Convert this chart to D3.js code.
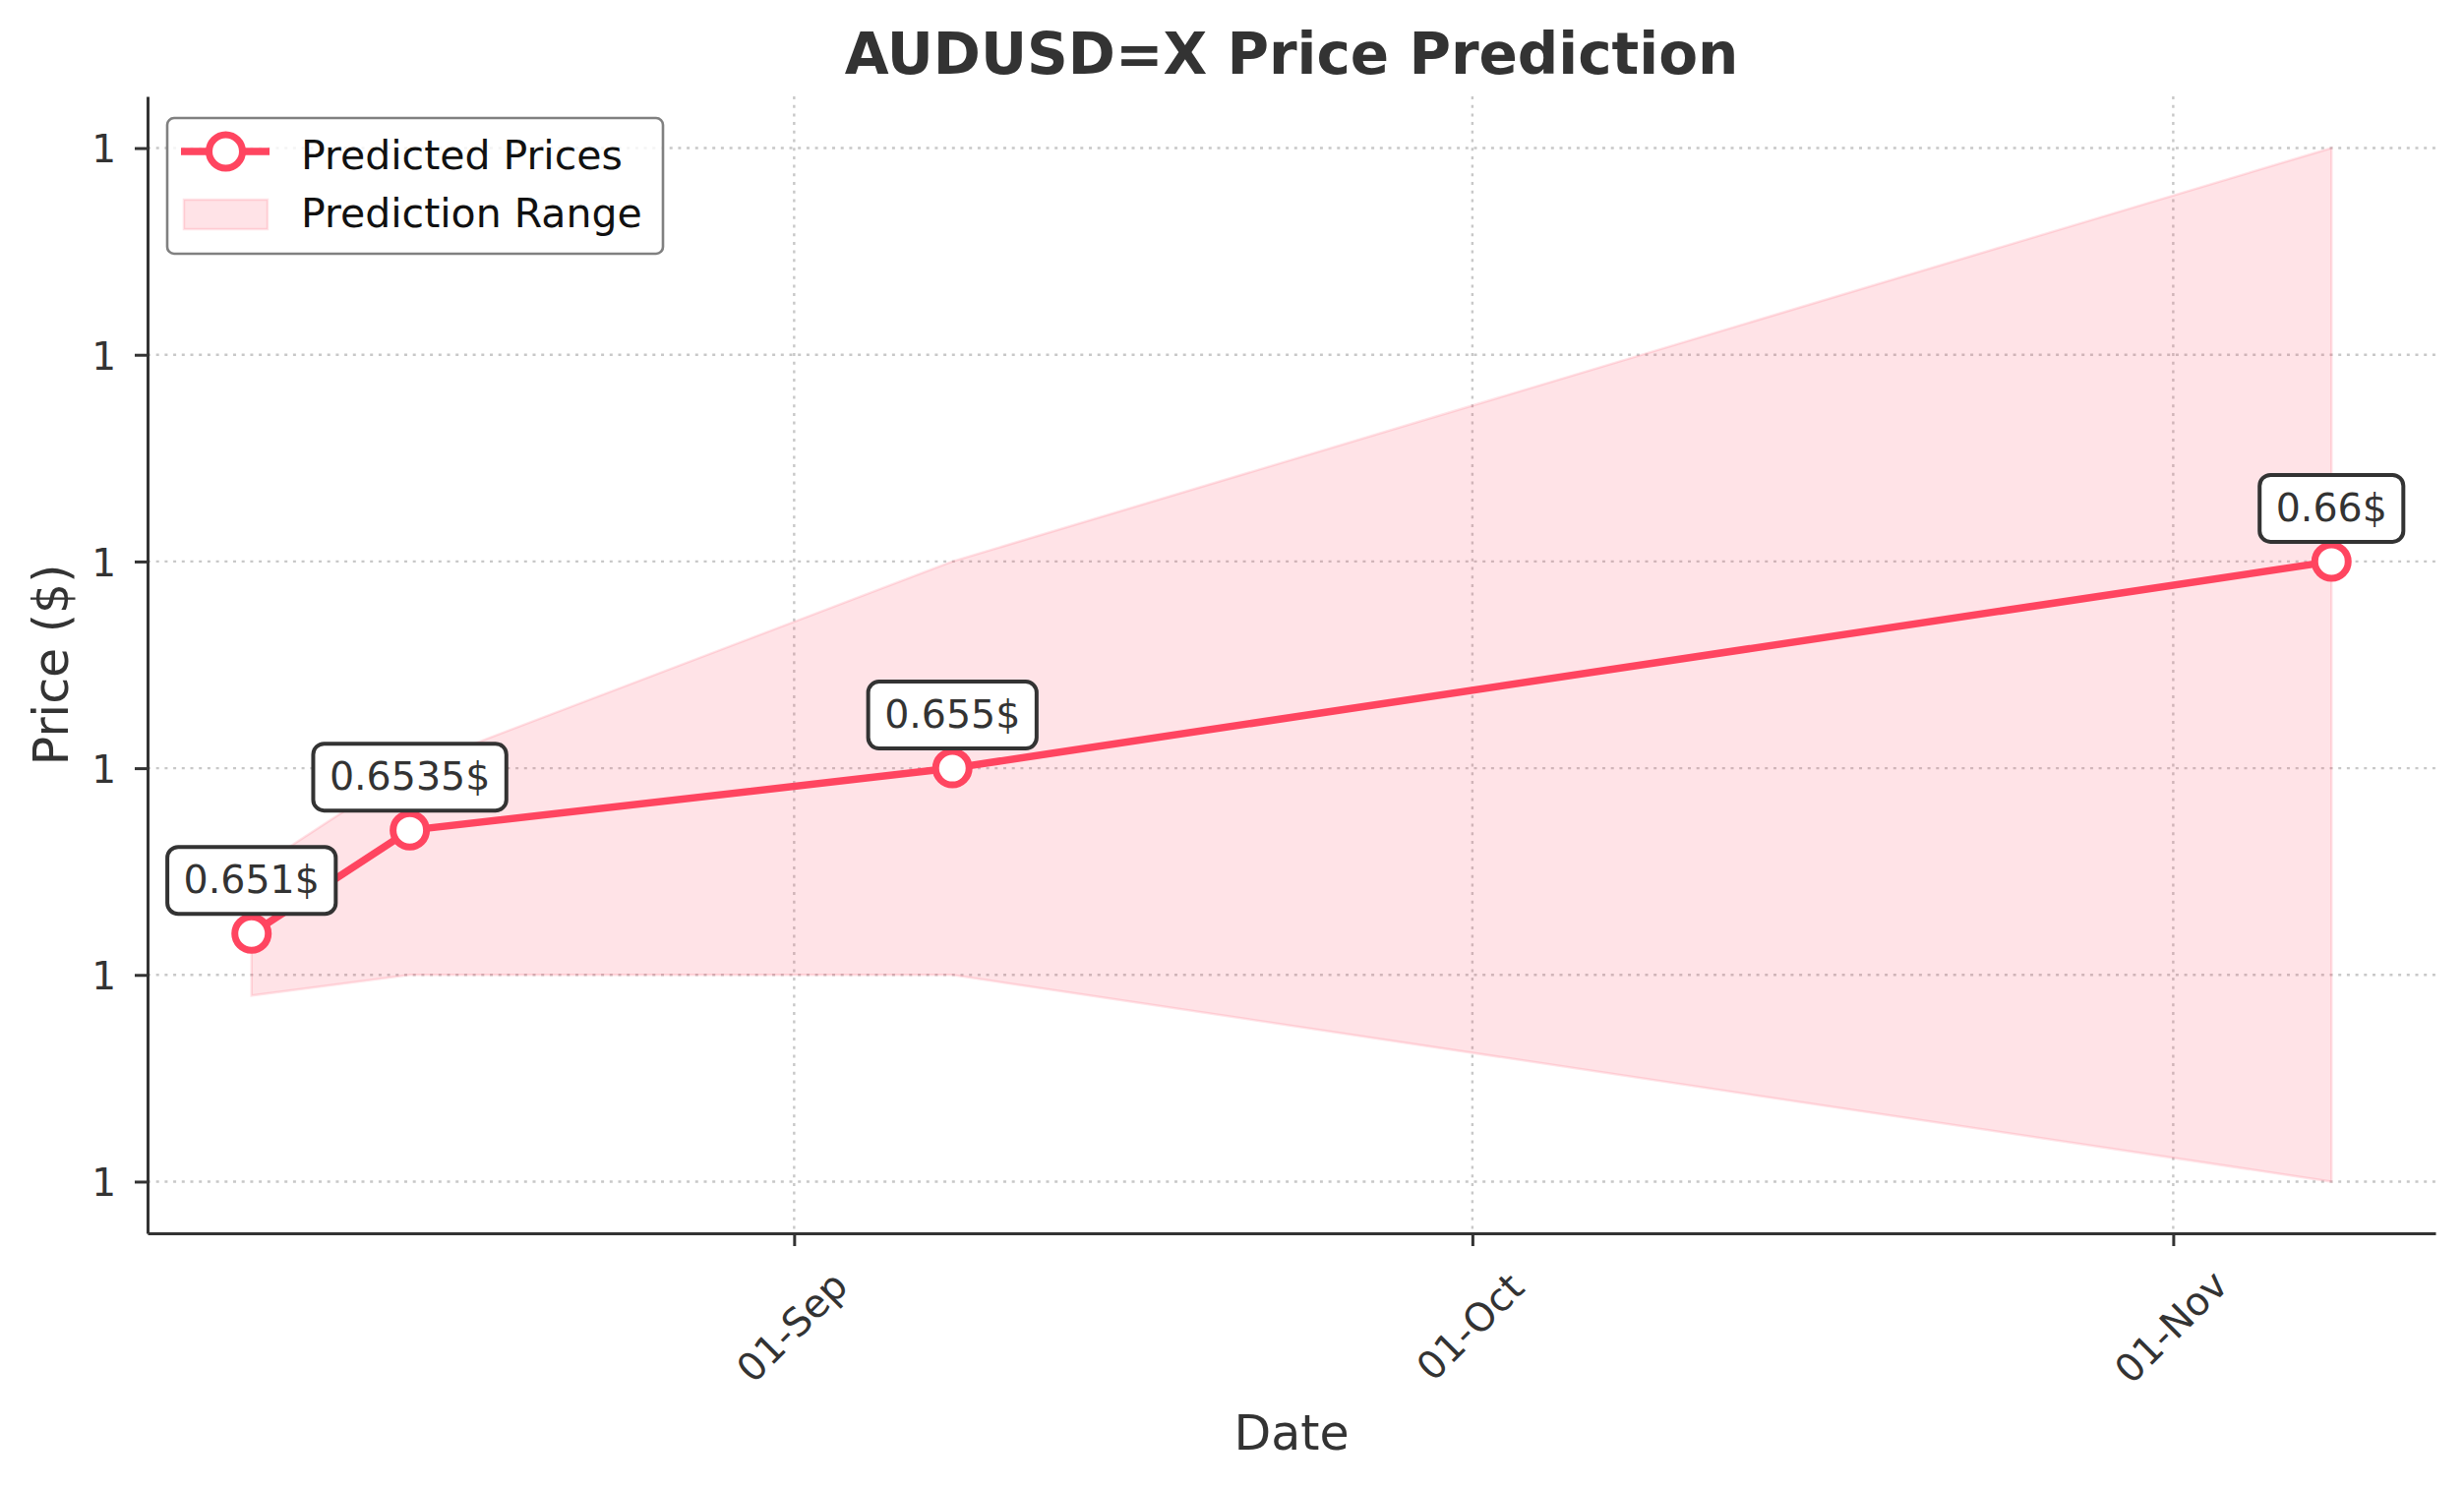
<!DOCTYPE html>
<html>
<head>
<meta charset="utf-8">
<title>AUDUSD=X Price Prediction</title>
<script src="https://cdn.jsdelivr.net/npm/d3@7"></script>
<style>
  html, body { margin: 0; padding: 0; background: #fff; }
  svg { display: block; font-family: "DejaVu Sans", sans-serif; }
</style>
</head>
<body>
<div id="chart"></div>
<script>
/* Price prediction line with a shaded range band. */

var dates = ["2024-08-08", "2024-08-15", "2024-09-08", "2024-11-08"];
var predicted = [0.651, 0.6535, 0.655, 0.66];
var lower = [0.6495, 0.65, 0.65, 0.645];
var upper = [0.6525, 0.655, 0.66, 0.67];
var pointLabels = ["0.651$", "0.6535$", "0.655$", "0.66$"];
var xTickDates = ["2024-09-01", "2024-10-01", "2024-11-01"];
var yTickValues = [0.645, 0.65, 0.655, 0.66, 0.665, 0.67];

var W = 2505, H = 1513;
var m = { left: 150, right: 2476, top: 98, bottom: 1254 };
var red = "#ff4560";
var ink = "#333333";

var parse = d3.utcParse("%Y-%m-%d");
var rows = dates.map(function (d, i) {
  return { date: parse(d), value: predicted[i], lo: lower[i], hi: upper[i], label: pointLabels[i] };
});

// matplotlib-like 5% autoscale margins
var xExt = d3.extent(rows, function (r) { return r.date; });
var xPad = (xExt[1] - xExt[0]) * 0.05;
var yMin = d3.min(rows, function (r) { return r.lo; });
var yMax = d3.max(rows, function (r) { return r.hi; });
var yPad = (yMax - yMin) * 0.05;

var x = d3.scaleUtc()
  .domain([new Date(+xExt[0] - xPad), new Date(+xExt[1] + xPad)])
  .range([m.left, m.right]);
var y = d3.scaleLinear()
  .domain([yMin - yPad, yMax + yPad])
  .range([m.bottom, m.top]);

var svg = d3.select("#chart").append("svg")
  .attr("width", W).attr("height", H)
  .attr("viewBox", "0 0 " + W + " " + H);

svg.append("rect").attr("width", W).attr("height", H).attr("fill", "#fff");

// grid
var grid = svg.append("g").attr("stroke", "#c8c8c8").attr("stroke-width", 2.4)
  .attr("stroke-dasharray", "3,5.7").attr("fill", "none");
grid.selectAll("line.h").data(yTickValues).enter().append("line")
  .attr("x1", m.left).attr("x2", m.right)
  .attr("y1", function (d) { return y(d); }).attr("y2", function (d) { return y(d); });
grid.selectAll("line.v").data(xTickDates.map(parse)).enter().append("line")
  .attr("y1", m.top).attr("y2", m.bottom)
  .attr("x1", function (d) { return x(d); }).attr("x2", function (d) { return x(d); });

// prediction range
var area = d3.area()
  .x(function (r) { return x(r.date); })
  .y0(function (r) { return y(r.lo); })
  .y1(function (r) { return y(r.hi); });
svg.append("path").datum(rows)
  .attr("d", area)
  .attr("fill", red).attr("fill-opacity", 0.15)
  .attr("stroke", red).attr("stroke-opacity", 0.15).attr("stroke-width", 2.5);

// predicted line
var line = d3.line()
  .x(function (r) { return x(r.date); })
  .y(function (r) { return y(r.value); });
svg.append("path").datum(rows)
  .attr("d", line)
  .attr("fill", "none").attr("stroke", red).attr("stroke-width", 7.5)
  .attr("stroke-linejoin", "round");

svg.selectAll("circle.pt").data(rows).enter().append("circle")
  .attr("class", "pt")
  .attr("cx", function (r) { return x(r.date); })
  .attr("cy", function (r) { return y(r.value); })
  .attr("r", 17)
  .attr("fill", "#fff").attr("stroke", red).attr("stroke-width", 7);

// value annotations
var labelFs = 39.5, padX = 16.5, boxH = 68, lift = 54;
rows.forEach(function (r) {
  var cx = x(r.date), cy = y(r.value) - lift;
  var g = svg.append("g");
  var t = g.append("text")
    .attr("x", cx).attr("y", cy + 13)
    .attr("text-anchor", "middle")
    .attr("font-size", labelFs).attr("fill", ink)
    .text(r.label);
  var w = t.node().getComputedTextLength() + padX * 2;
  g.insert("rect", "text")
    .attr("x", cx - w / 2).attr("y", cy - boxH / 2)
    .attr("width", w).attr("height", boxH)
    .attr("rx", 11).attr("ry", 11)
    .attr("fill", "#fff").attr("stroke", ink).attr("stroke-width", 4);
});

// axes
var xAxis = d3.axisBottom(x)
  .tickValues(xTickDates.map(parse))
  .tickFormat(d3.utcFormat("%d-%b"))
  .tickSize(13).tickSizeOuter(0);
var gx = svg.append("g").attr("transform", "translate(0," + m.bottom + ")").call(xAxis);
gx.select(".domain").attr("stroke", ink).attr("stroke-width", 3);
gx.selectAll(".tick line").attr("stroke", ink).attr("stroke-width", 3);
gx.selectAll(".tick text")
  .attr("font-family", "DejaVu Sans").attr("font-size", 39.5).attr("fill", ink)
  .attr("y", 0).attr("dy", "0.25em")
  .attr("text-anchor", "middle")
  .attr("transform", "translate(0," + (1352 - m.bottom) + ") rotate(-45)");

var yAxis = d3.axisLeft(y)
  .tickValues(yTickValues)
  .tickFormat(d3.format(".0f"))
  .tickSize(13).tickPadding(19).tickSizeOuter(0);
var gy = svg.append("g").attr("transform", "translate(" + m.left + ",0)").call(yAxis);
gy.select(".domain").attr("stroke", ink).attr("stroke-width", 3);
gy.selectAll(".tick line").attr("stroke", ink).attr("stroke-width", 3);
gy.selectAll(".tick text")
  .attr("font-family", "DejaVu Sans").attr("font-size", 39).attr("fill", ink)
  .attr("dy", "0.37em");

// titles
svg.append("text")
  .attr("x", (m.left + m.right) / 2).attr("y", 75)
  .attr("text-anchor", "middle")
  .attr("font-size", 58).attr("font-weight", "bold").attr("fill", ink)
  .text("AUDUSD=X Price Prediction");
svg.append("text")
  .attr("x", (m.left + m.right) / 2).attr("y", 1474)
  .attr("text-anchor", "middle")
  .attr("font-size", 49).attr("fill", ink)
  .text("Date");
svg.append("text")
  .attr("transform", "translate(69," + ((m.top + m.bottom) / 2) + ") rotate(-90)")
  .attr("text-anchor", "middle")
  .attr("font-size", 49).attr("fill", ink)
  .text("Price ($)");

// legend
var lg = svg.append("g");
lg.append("rect")
  .attr("x", 170).attr("y", 120).attr("width", 504).attr("height", 138)
  .attr("rx", 7).attr("ry", 7)
  .attr("fill", "#fff").attr("fill-opacity", 0.8)
  .attr("stroke", "#808080").attr("stroke-width", 2.6);
lg.append("line")
  .attr("x1", 184).attr("x2", 274).attr("y1", 154).attr("y2", 154)
  .attr("stroke", red).attr("stroke-width", 7.5);
lg.append("circle")
  .attr("cx", 229.5).attr("cy", 154).attr("r", 17)
  .attr("fill", "#fff").attr("stroke", red).attr("stroke-width", 7);
lg.append("rect")
  .attr("x", 187).attr("y", 203).attr("width", 85).attr("height", 30)
  .attr("fill", red).attr("fill-opacity", 0.15)
  .attr("stroke", red).attr("stroke-opacity", 0.15).attr("stroke-width", 2.5);
lg.append("text").attr("x", 306).attr("y", 171.5)
  .attr("font-size", 41).attr("fill", "#111").text("Predicted Prices");
lg.append("text").attr("x", 306).attr("y", 230.5)
  .attr("font-size", 41).attr("fill", "#111").text("Prediction Range");
</script>
</body>
</html>
